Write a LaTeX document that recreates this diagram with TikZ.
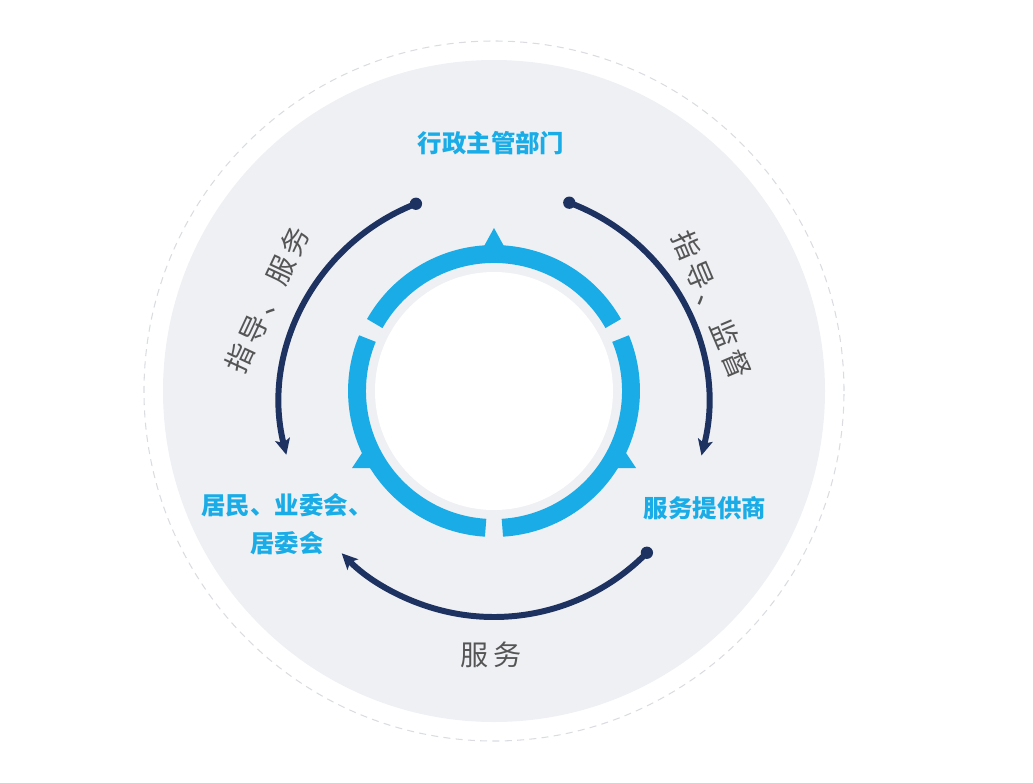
\documentclass[tikz,border=0pt]{standalone}
\usepackage{fontspec}
\setmainfont{Noto Sans CJK SC}
\usetikzlibrary{arrows.meta}

\definecolor{ringblue}{RGB}{26,172,230}
\definecolor{navy}{RGB}{30,50,98}
\definecolor{discgray}{RGB}{238,240,244}
\definecolor{dashgray}{RGB}{218,220,224}
\definecolor{labelgray}{RGB}{85,85,85}

\tikzset{
  role/.style={text=ringblue, font=\fontsize{13.9}{21.5}\selectfont\bfseries, align=center, inner sep=0pt},
  duty/.style={text=labelgray, font=\fontsize{16}{19}\selectfont\addfontfeature{LetterSpace=15}, inner sep=0pt},
  flow/.style={draw=navy, line width=3.4pt, -{Stealth[length=9pt,width=8.5pt,inset=2pt]}},
  startdot/.style={circle, fill=navy, inner sep=0pt, minimum size=7pt},
  ringseg/.style={draw=ringblue, line width=10.2pt},
  pointer/.style={fill=ringblue},
}

\begin{document}
\begin{tikzpicture}[x=0.02cm, y=0.02cm]
    \useasboundingbox (-494,-391) rectangle (539,391);

    % disc and centre
    \fill[discgray] (0,0) circle (331);
    \draw[dashgray, dashed, line width=0.6pt, dash pattern=on 4pt off 3pt] (0,0) circle (350);
    \fill[white] (0,0) circle (119);

    % blue ring
    \draw[ringseg] (29.5:137) arc[start angle=29.5, end angle=150.5, radius=137];
    \draw[ringseg] (157.5:137) arc[start angle=157.5, end angle=266.5, radius=137];
    \draw[ringseg] (273.5:137) arc[start angle=273.5, end angle=382.5, radius=137];

    \fill[pointer] (-11,143) -- (11,143) -- (0,163) -- cycle;
    \fill[pointer] (-142,-77) -- (-118,-77) -- (-130,-59) -- cycle;
    \fill[pointer] (118,-77) -- (142,-77) -- (130,-59) -- cycle;

    % roles
    \node[role] (gov) at (-3,248) {行政主管部门};
    \node[role] (prov) at (211,-117) {服务提供商};
    \node[role] (res) at (-207,-133) {居民、业委会、\\居委会};

    % flows
    \path (0,-12) ++(111.4:214) coordinate (gs);
    \path (0,-12) ++(69.4:214) coordinate (ps);
    \path (0,-12) ++(-44.4:214) coordinate (ss);

    \draw[flow] (gs) arc[start angle=111.4, end angle=194, radius=214];
    \draw[flow] (ps) arc[start angle=69.4, end angle=-14.2, radius=214];
    \draw[flow] (ss) arc[start angle=-44.4, end angle=-135.4, radius=214];

    \node[startdot] (gsdot) at (gs) {};
    \node[startdot] (psdot) at (ps) {};
    \node[startdot] (ssdot) at (ss) {};

    \node[duty, rotate=65] (guide) at (-227,91) {指导、服务};
    \node[duty, rotate=-67] (watch) at (218,86) {指导、监督};
    \node[duty] (serve) at (-3,-264) {服务};
\end{tikzpicture}
\end{document}
